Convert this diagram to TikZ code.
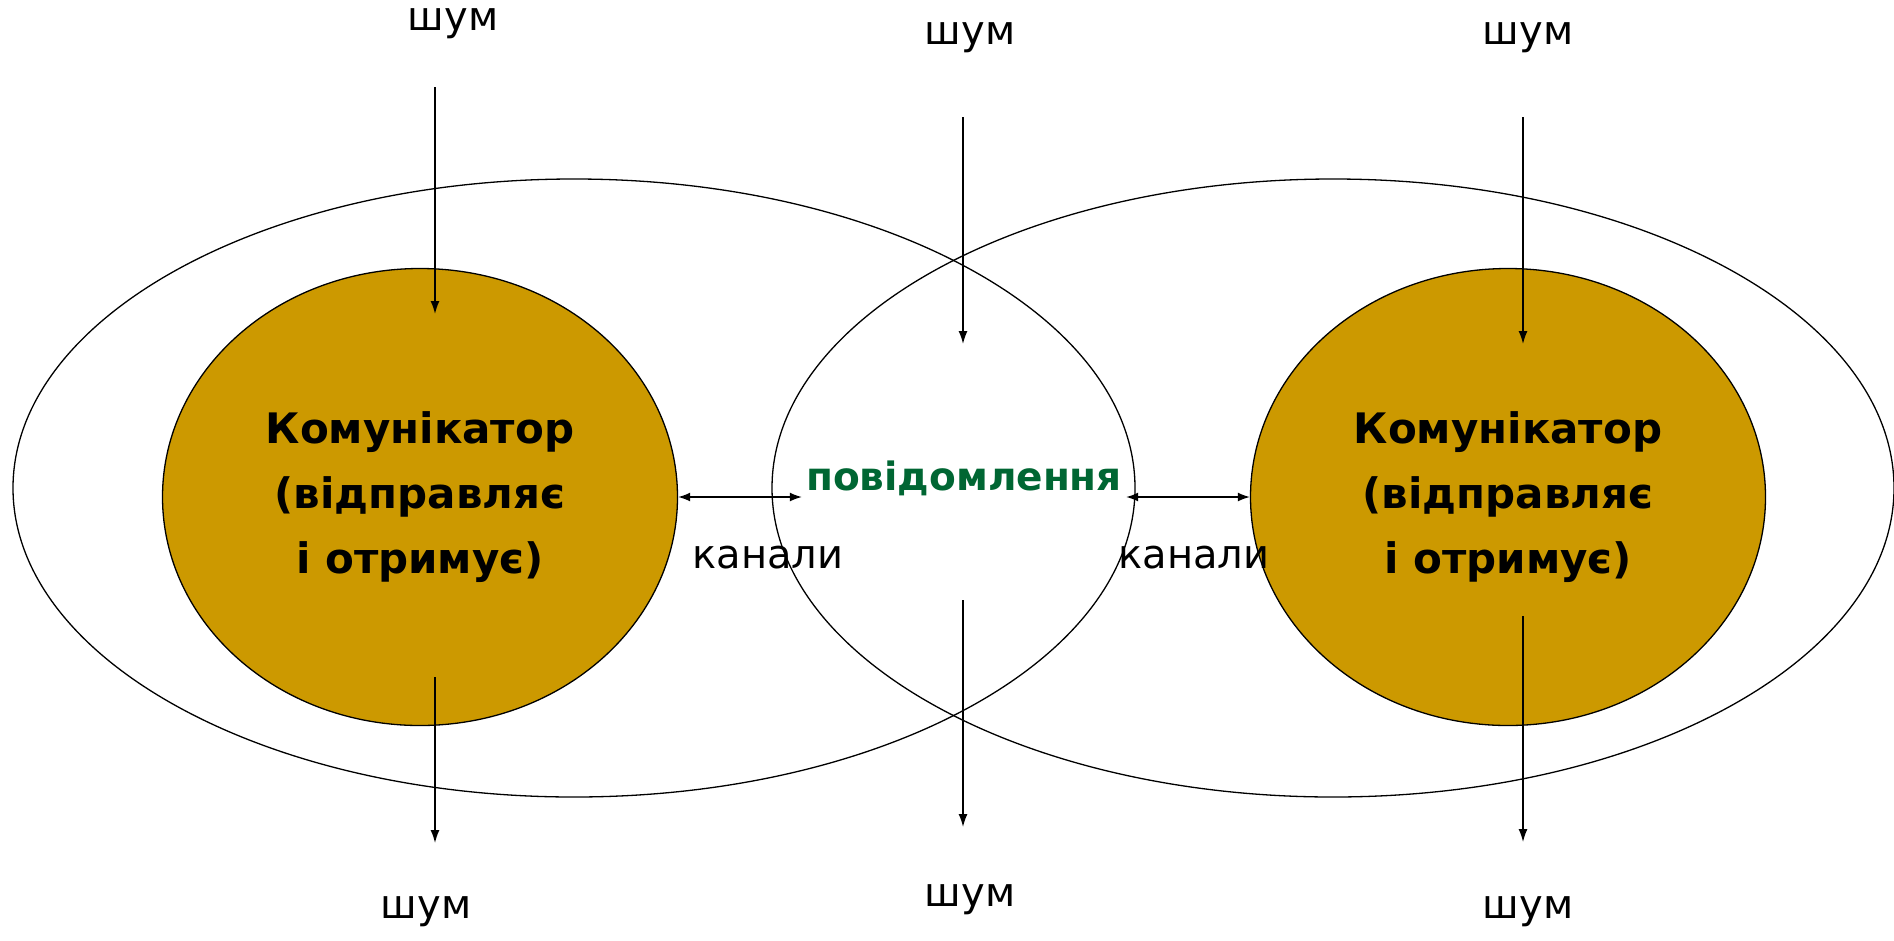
\documentclass[tikz,border=0pt]{standalone}
\usepackage{fontspec}
\setmainfont{DejaVu Sans}
\usetikzlibrary{shapes.geometric,arrows.meta}
\definecolor{gold}{HTML}{CC9900}
\definecolor{msggreen}{HTML}{006633}
\tikzset{
  bigell/.style={ellipse, draw=black, line width=1.3pt, minimum width=1122pt, minimum height=618pt, inner sep=0pt},
  comell/.style={ellipse, draw=black, line width=1.3pt, fill=gold, minimum width=515pt, minimum height=457pt, inner sep=0pt},
  comtext/.style={align=center, font=\fontsize{42}{65}\selectfont\bfseries, text=black},
  noise/.style={font=\fontsize{40}{48}\selectfont, text=black, inner sep=0pt},
  chan/.style={font=\fontsize{40}{48}\selectfont, text=black, inner sep=0pt},
  msgtext/.style={font=\fontsize{39}{46}\selectfont\bfseries, text=msggreen, inner sep=4pt},
  noisearrow/.style={line width=1.5pt, -{Latex[length=13pt,width=9pt]}},
  chanarrow/.style={line width=1.5pt, {Latex[length=12pt,width=9pt]}-{Latex[length=12pt,width=9pt]}},
}
\begin{document}
\begin{tikzpicture}[x=1pt,y=-1pt]
\useasboundingbox (0,0) rectangle (1894,940);
% big ellipses
\node[bigell] (lbig) at (574,488) {};
\node[bigell] (rbig) at (1333,488) {};
% communicators
\node[comell] (lcom) at (420,497) {};
\node[comell] (rcom) at (1508,497) {};
\node[comtext] (ltext) at (420,497) {Комунікатор\\(відправляє\\і отримує)};
\node[comtext] (rtext) at (1508,497) {Комунікатор\\(відправляє\\і отримує)};
% message
\node[msgtext] (msg) at (964,478) {повідомлення};
% channels
\draw[chanarrow] (lcom.east) -- (msg.west |- lcom.east);
\draw[chanarrow] (msg.east |- rcom.west) -- (rcom.west);
\node[chan] (lchan) at (768,558) {канали};
\node[chan] (rchan) at (1194,558) {канали};
% noise labels
\node[noise] (n1) at (453,24) {шум};
\node[noise] (n2) at (970,38) {шум};
\node[noise] (n3) at (1528,38) {шум};
\node[noise] (n4) at (426,912) {шум};
\node[noise] (n5) at (970,900) {шум};
\node[noise] (n6) at (1528,912) {шум};
% noise arrows
\coordinate (a1s) at (435,87);  \coordinate (a1e) at (435,314);
\coordinate (a2s) at (963,117); \coordinate (a2e) at (963,344);
\coordinate (a3s) at (1523,117); \coordinate (a3e) at (1523,344);
\coordinate (a4s) at (435,677); \coordinate (a4e) at (435,843);
\coordinate (a5s) at (963,600); \coordinate (a5e) at (963,827);
\coordinate (a6s) at (1523,616); \coordinate (a6e) at (1523,842);
\draw[noisearrow] (a1s) -- (a1e);
\draw[noisearrow] (a2s) -- (a2e);
\draw[noisearrow] (a3s) -- (a3e);
\draw[noisearrow] (a4s) -- (a4e);
\draw[noisearrow] (a5s) -- (a5e);
\draw[noisearrow] (a6s) -- (a6e);
\end{tikzpicture}
\end{document}
